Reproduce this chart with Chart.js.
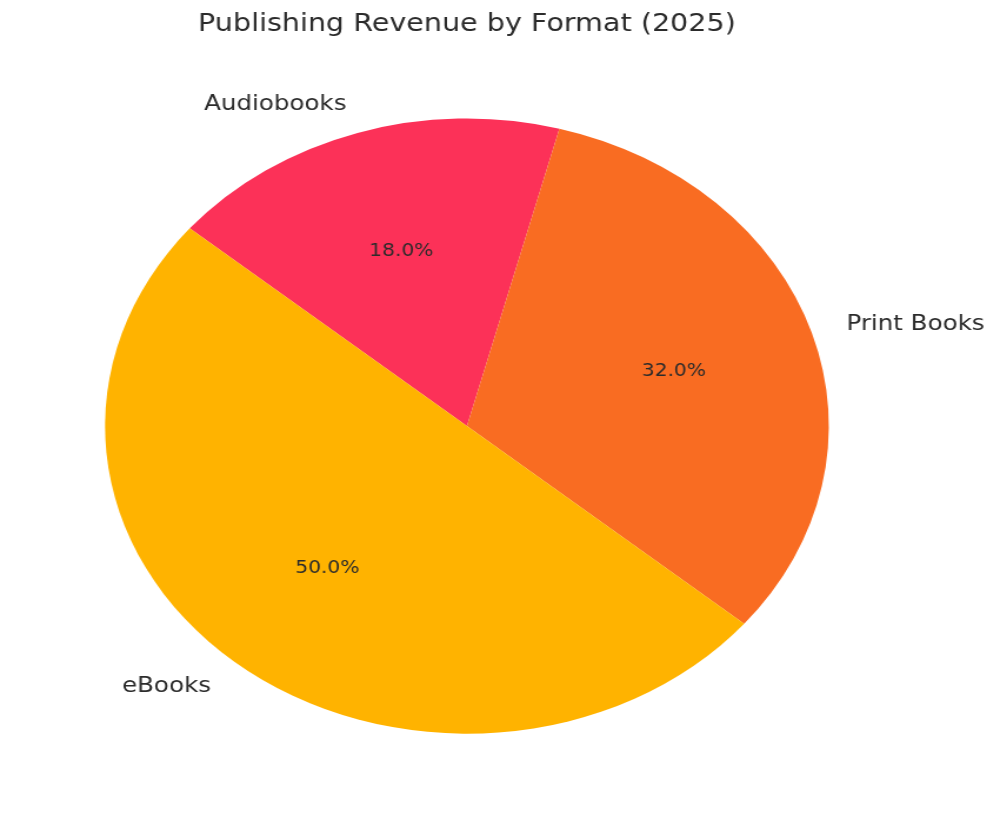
<!DOCTYPE html>
<html>
<head>
<meta charset="utf-8">
<script src="https://cdn.jsdelivr.net/npm/chart.js@4"></script>
<style>
  html, body { margin: 0; padding: 0; background: #fff; overflow: hidden; }
  /* the reference is stretched sideways, so the whole chart is drawn narrow and scaled */
  #wrap { position: absolute; left: 0; top: 0; width: 850px; height: 824px;
          transform: scaleX(1.17647); transform-origin: 0 0; }
</style>
</head>
<body>
<div id="wrap"><canvas id="myChart"></canvas></div>
<script>
// Datos del grafico (orden horario desde arriba a la izquierda)
const categorias = ['Audiobooks', 'Print Books', 'eBooks'];
const valores = [18, 32, 50];
const colores = ['#FC3158', '#F96C22', '#FFB300'];

const textColor = '#2b2b2b';

// Etiquetas tipo matplotlib: nombre fuera (1.1 r) y porcentaje dentro (0.6 r)
const etiquetasPie = {
    id: 'etiquetasPie',
    afterDatasetsDraw(chart) {
        const ctx = chart.ctx;
        const meta = chart.getDatasetMeta(0);
        const total = valores.reduce((a, b) => a + b, 0);
        ctx.save();
        ctx.fillStyle = textColor;
        ctx.textBaseline = 'middle';
        meta.data.forEach((arc, i) => {
            const mid = (arc.startAngle + arc.endAngle) / 2;
            const r = arc.outerRadius;
            const cx = Math.cos(mid), cy = Math.sin(mid);

            ctx.font = '20.9px "DejaVu Sans"';
            ctx.textAlign = cx < 0 ? 'right' : 'left';
            ctx.fillText(categorias[i], arc.x + cx * r * 1.1, arc.y + cy * r * 1.1 + 1);

            ctx.font = '17.2px "DejaVu Sans"';
            ctx.textAlign = 'center';
            const pct = (valores[i] / total * 100).toFixed(1) + '%';
            ctx.fillText(pct, arc.x + cx * r * 0.6, arc.y + cy * r * 0.6 + 1);
        });
        ctx.restore();
    }
};

const chart = new Chart(document.getElementById('myChart').getContext('2d'), {
    type: 'pie',
    data: {
        labels: categorias,
        datasets: [{
            data: valores,
            backgroundColor: colores,
            borderWidth: 0,
            hoverOffset: 0
        }]
    },
    options: {
        responsive: true,
        maintainAspectRatio: false,
        animation: false,
        rotation: -50,
        radius: 307.6,
        layout: {
            padding: { left: 89.3, right: 145.5, top: 0, bottom: 90.5 }
        },
        plugins: {
            legend: { display: false },
            tooltip: { enabled: false },
            title: {
                display: true,
                text: 'Publishing Revenue by Format (2025)',
                color: textColor,
                font: { family: '"DejaVu Sans"', size: 24.3, weight: 'normal', lineHeight: 1.2 },
                padding: { top: 10.4, bottom: 79.1 }
            }
        }
    },
    plugins: [etiquetasPie]
});
</script>
</body>
</html>
